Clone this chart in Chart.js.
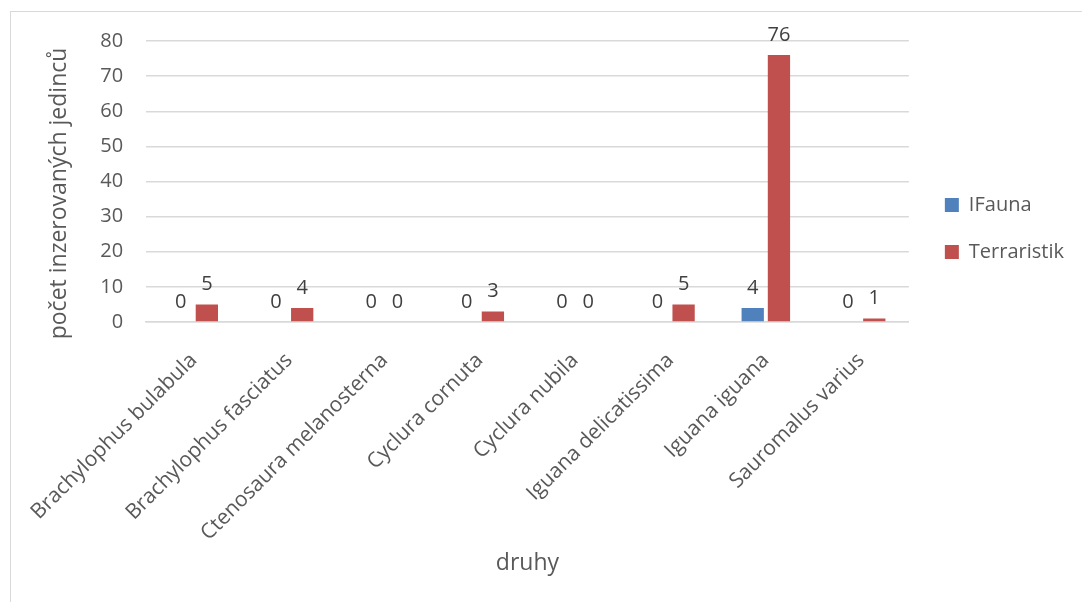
<!DOCTYPE html>
<html>
<head>
<meta charset="utf-8">
<script src="https://cdn.jsdelivr.net/npm/chart.js@4/dist/chart.umd.min.js"></script>
<style>
  html, body { margin: 0; padding: 0; background: #fff; overflow: hidden; }
  #frame { position: absolute; left: 10px; top: 11px; width: 3000px; height: 3000px;
           border-left: 1px solid #d9d9d9; border-top: 1px solid #d9d9d9; }
  #wrap { position: absolute; left: 0; top: 0; width: 1082px; height: 602px; }
</style>
</head>
<body>
<div id="frame"></div>
<div id="wrap"><canvas id="c" width="1082" height="602"></canvas></div>
<script>
const categories = [
  "Brachylophus bulabula",
  "Brachylophus fasciatus",
  "Ctenosaura melanosterna",
  "Cyclura cornuta",
  "Cyclura nubila",
  "Iguana delicatissima",
  "Iguana iguana",
  "Sauromalus varius"
];
const ifaunaValues = [0, 0, 0, 0, 0, 0, 4, 0];
const terraristikValues = [5, 4, 0, 3, 0, 5, 76, 1];
const seriesNames = ["IFauna", "Terraristik"];
const yTicks = [0, 10, 20, 30, 40, 50, 60, 70, 80];

const FONT = "'Open Sans', sans-serif";
const TXT = "#595959";

const valueLabels = {
  id: 'valueLabels',
  afterDatasetsDraw(chart) {
    const ctx = chart.ctx;
    ctx.save();
    ctx.font = "20px " + FONT;
    ctx.fillStyle = "#404040";
    ctx.textAlign = "center";
    ctx.textBaseline = "bottom";
    chart.data.datasets.forEach((ds, i) => {
      const meta = chart.getDatasetMeta(i);
      meta.data.forEach((el, j) => {
        ctx.fillText(String(ds.data[j]), el.x, el.y - 10);
      });
    });
    ctx.restore();
  }
};

const legendShift = {
  id: 'legendShift',
  afterLayout(chart) {
    const lg = chart.legend;
    if (!lg) return;
    lg.left += 9; lg.right += 9;
    lg.top -= 93; lg.bottom -= 93;
  }
};

new Chart(document.getElementById('c'), {
  type: 'bar',
  data: {
    labels: categories,
    datasets: [
      { label: seriesNames[0], data: ifaunaValues, backgroundColor: '#4F81BD', borderWidth: 0,
        categoryPercentage: 0.55, barPercentage: 0.85 },
      { label: seriesNames[1], data: terraristikValues, backgroundColor: '#C0504D', borderWidth: 0,
        categoryPercentage: 0.55, barPercentage: 0.85 }
    ]
  },
  options: {
    responsive: false,
    animation: false,
    devicePixelRatio: 1,
    layout: { padding: { left: 0, top: 41, right: 17, bottom: 0 } },
    plugins: {
      tooltip: { enabled: false },
      legend: {
        position: 'right',
        labels: {
          font: { family: FONT, size: 20 },
          color: TXT,
          boxWidth: 14,
          boxHeight: 14,
          padding: 27
        }
      }
    },
    scales: {
      x: {
        grid: { display: false, drawTicks: false },
        border: { display: true, color: '#d9d9d9', width: 1.5 },
        ticks: {
          font: { family: FONT, size: 21 },
          color: TXT,
          maxRotation: 45,
          minRotation: 45,
          autoSkip: false,
          padding: 26
        },
        title: {
          display: true,
          text: 'druhy',
          font: { family: FONT, size: 23 },
          color: TXT,
          padding: { top: 0, bottom: 25 }
        },
        afterFit(s) { s.height = 280; }
      },
      y: {
        min: 0,
        max: 80,
        afterBuildTicks(s) { s.ticks = yTicks.map(v => ({ value: v })); },
        grid: { color: '#d9d9d9', lineWidth: 1.5, drawTicks: false },
        border: { display: false },
        ticks: {
          font: { family: FONT, size: 20 },
          color: TXT,
          padding: 23
        },
        title: {
          display: true,
          text: 'počet inzerovaných jedinců    ',
          font: { family: FONT, size: 23 },
          color: TXT,
          padding: { top: 42, bottom: 0 }
        },
        afterFit(s) { s.width = 142; }
      }
    }
  },
  plugins: [valueLabels, legendShift]
});
</script>
</body>
</html>
